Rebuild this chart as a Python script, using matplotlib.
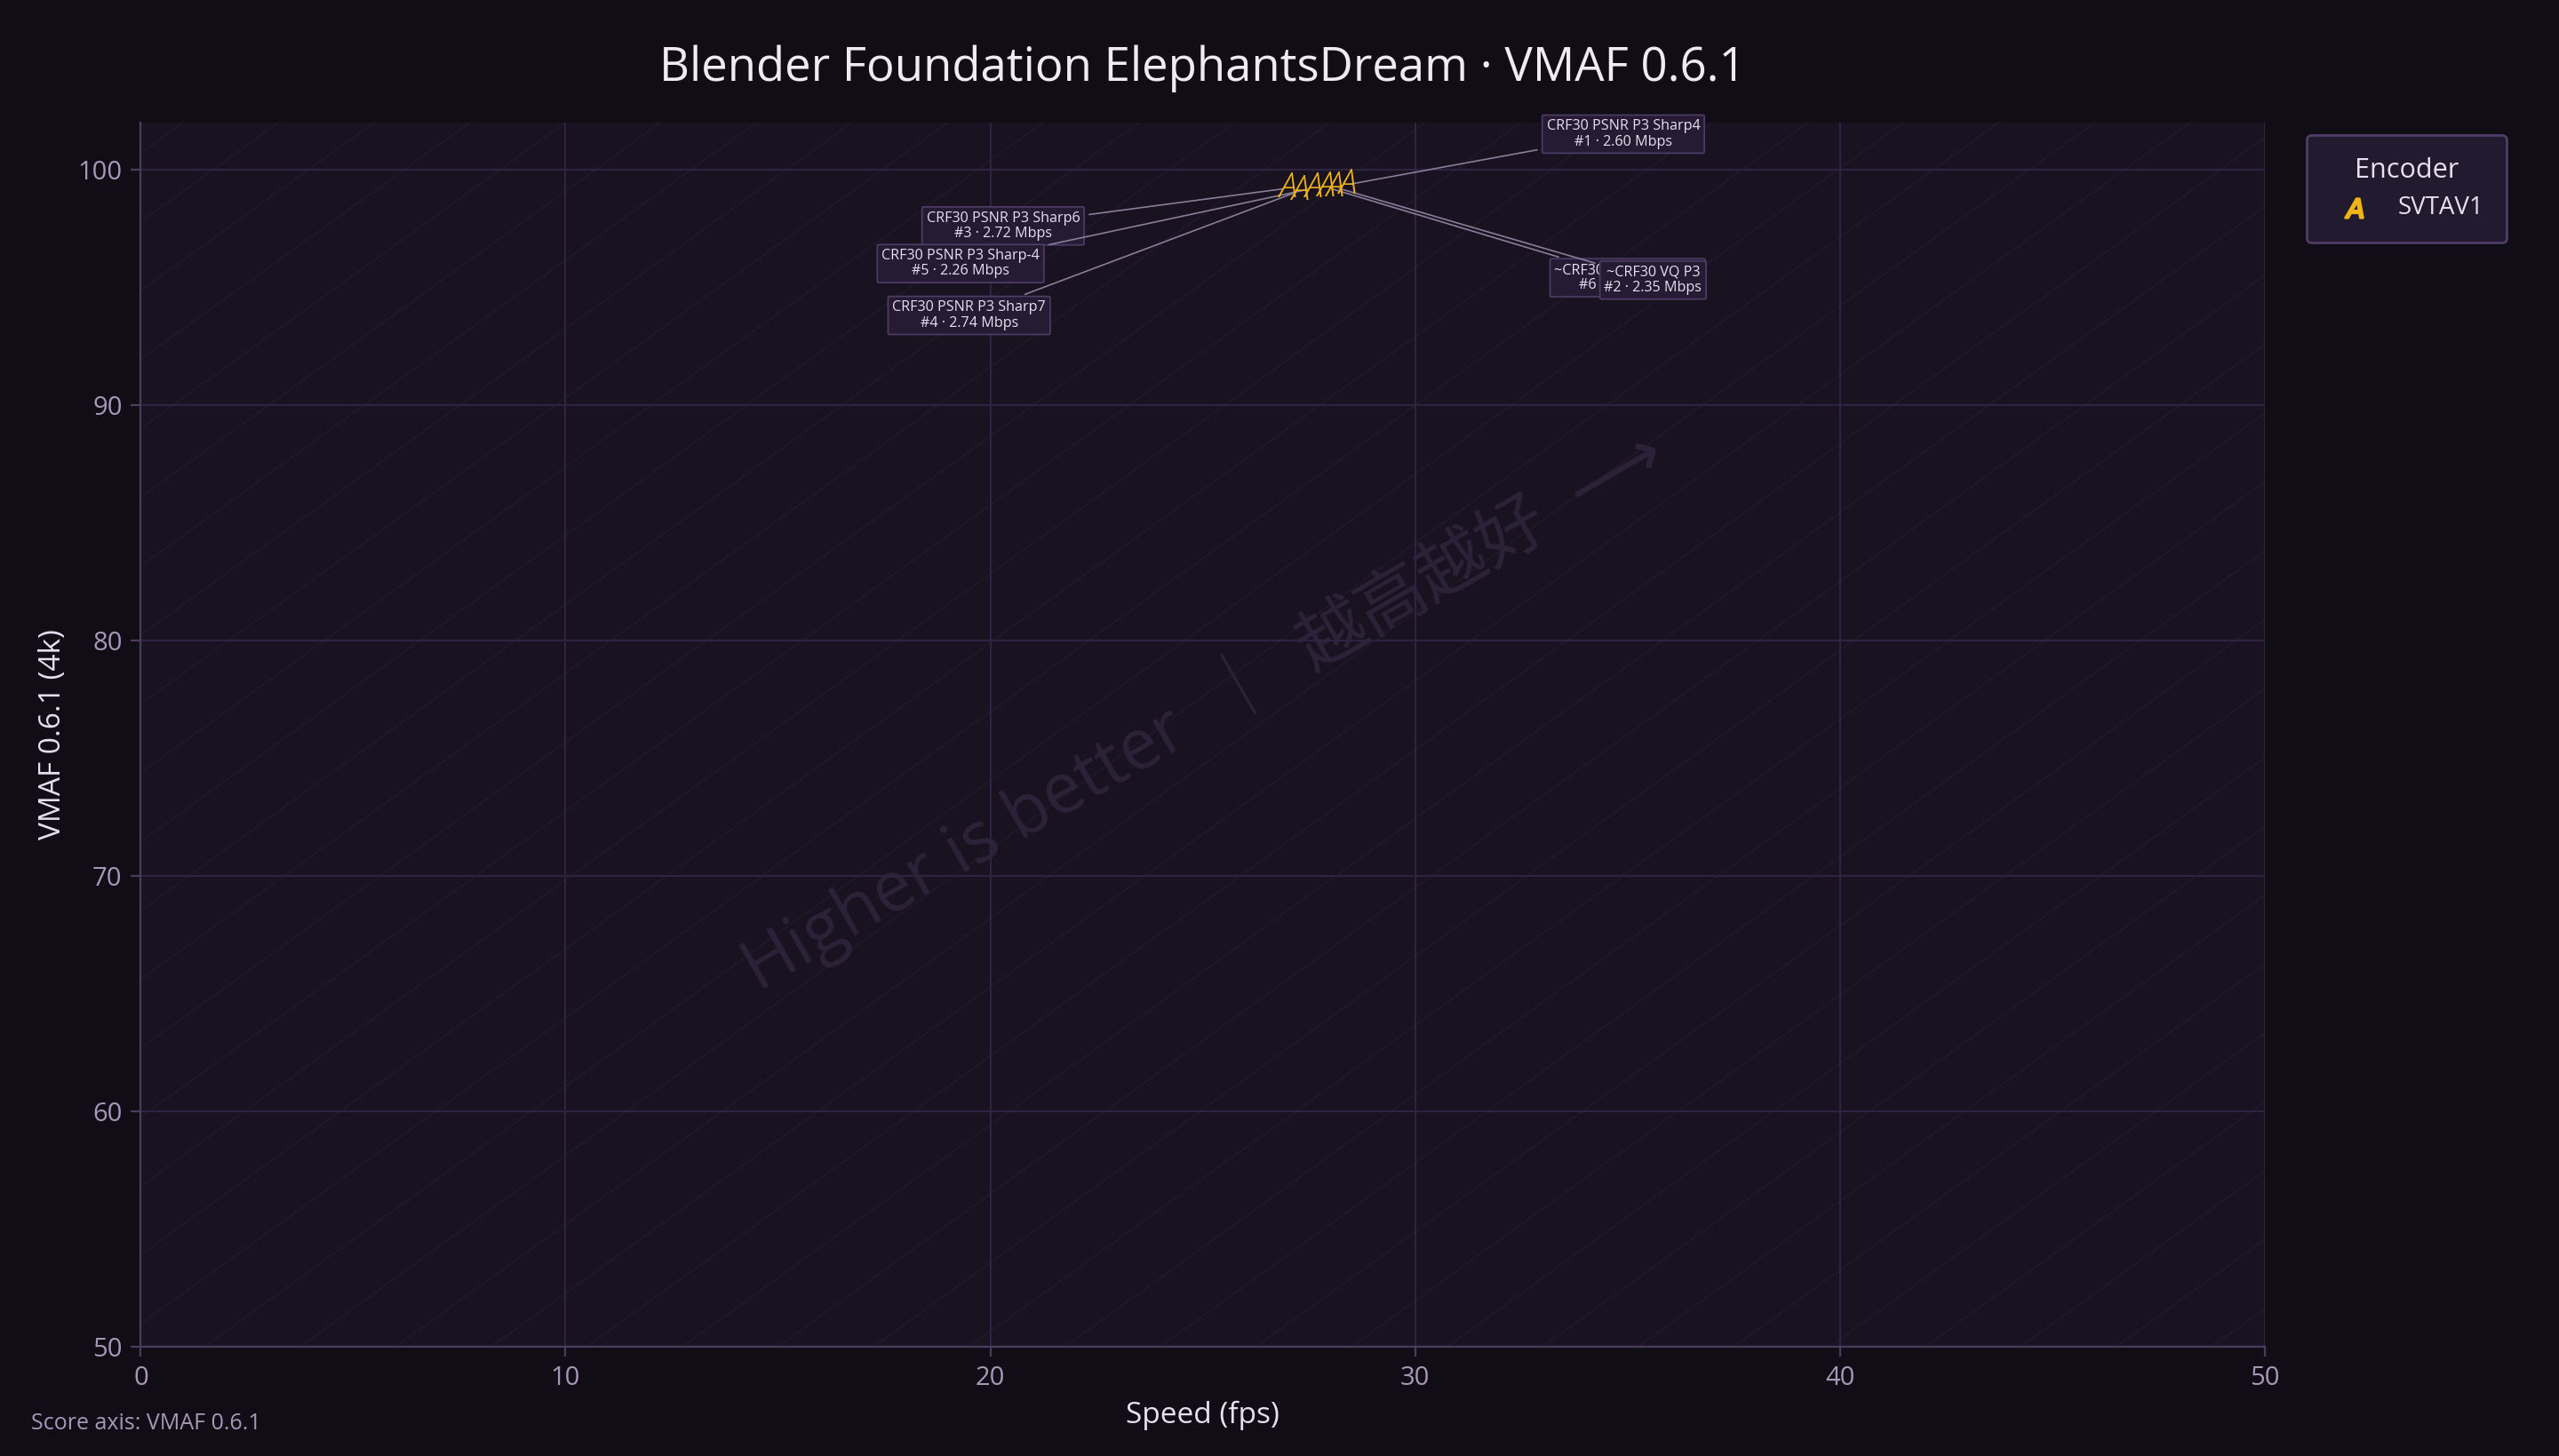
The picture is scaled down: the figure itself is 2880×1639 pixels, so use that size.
import matplotlib
matplotlib.use('Agg')
import matplotlib.pyplot as plt
import numpy as np

plt.rcParams['font.family'] = ['Open Sans', 'Noto Sans CJK SC', 'DejaVu Sans']

speed = [28.4, 28.1, 27.0, 27.3, 27.6, 27.9]
vmaf = [99.35, 99.25, 99.2, 99.1, 99.2, 99.25]
names = ['CRF30 PSNR P3 Sharp4', '~CRF30 VQ P3', 'CRF30 PSNR P3 Sharp6',
         'CRF30 PSNR P3 Sharp7', 'CRF30 PSNR P3 Sharp-4', '~CRF30 PSNR QM0 P3']
bitrate = [2.60, 2.35, 2.72, 2.74, 2.26, 2.29]
label_pos = [(34.9, 101.5), (35.6, 95.3), (20.3, 97.6), (19.5, 93.8), (19.3, 96.0), (35.0, 95.4)]
draw_order = [0, 5, 1, 2, 4, 3]

BG = '#110d16'
AX = '#181221'
GRID = '#2e2440'
TICK = '#a898b8'

fig = plt.figure(figsize=(14.4, 8.195), dpi=200)
fig.patch.set_facecolor(BG)
ax = fig.add_axes([0.055, 0.075, 0.83, 0.841])
ax.set_facecolor(AX)
ax.set_xlim(0, 50)
ax.set_ylim(50, 102)

# faint diagonal hatching
for c in np.arange(-1.5, 1.05, 0.045):
    ax.plot([c, c + 1.2], [0, 1.2 * 1.25], transform=ax.transAxes,
            color='#201929', lw=0.6, zorder=0.5)

ax.grid(True, color=GRID, lw=0.8, zorder=1)
ax.set_xticks([0, 10, 20, 30, 40, 50])
ax.set_yticks([50, 60, 70, 80, 90, 100])
ax.tick_params(colors=TICK, labelsize=10.5, length=4, color='#4a3c5c')
for s in ['top', 'right']:
    ax.spines[s].set_visible(False)
for s in ['bottom', 'left']:
    ax.spines[s].set_color('#4a3c5c')

ax.text(0.5, 0.52, 'Higher is better  ｜  越高越好  ⟶', transform=ax.transAxes,
        rotation=30, ha='center', va='center', fontsize=28, color='#2c2338',
        zorder=1.5, family=['Open Sans', 'Noto Sans CJK SC', 'DejaVu Sans'])

for i in draw_order:
    ax.text(speed[i], vmaf[i], 'A', color='#f0b419', fontsize=14, ha='center',
            va='center', zorder=4, style='italic', fontweight='light')
    ax.annotate(f'{names[i]}\n#{i + 1} · {bitrate[i]:.2f} Mbps',
                xy=(speed[i], vmaf[i]), xytext=label_pos[i],
                ha='center', va='center', fontsize=5.8, color='#e8e0f0',
                linespacing=1.1,
                bbox=dict(boxstyle='round,pad=0.3,rounding_size=0.1', fc='#251b33',
                          ec='#4e3d66', lw=0.6),
                arrowprops=dict(arrowstyle='-', color='#8a7d99', lw=0.6),
                zorder=3)

ax.set_xlabel('Speed (fps)', color='#e8e0f0', fontsize=12)
ax.set_ylabel('VMAF 0.6.1 (4k)', color='#e8e0f0', fontsize=12)

fig.text(0.47, 0.953, 'Blender Foundation ElephantsDream · VMAF 0.6.1', ha='center',
         va='center', fontsize=19, color='#f0eaf5')
fig.text(0.012, 0.018, 'Score axis: VMAF 0.6.1', fontsize=9, color='#a898b8')

h = ax.scatter([], [], marker='$A$', color='#f0b419', s=60, label='SVTAV1')
leg = ax.legend(handles=[h], title='Encoder', loc='upper left',
                bbox_to_anchor=(1.014, 1.0), fontsize=10, title_fontsize=11,
                facecolor='#221a2e', edgecolor='#4e3d66', labelcolor='#e8e0f0',
                borderpad=0.9, handletextpad=0.8)
leg.get_title().set_color('#e8e0f0')
leg.get_frame().set_alpha(1)

fig.savefig('out.png', dpi=200, facecolor=BG)
